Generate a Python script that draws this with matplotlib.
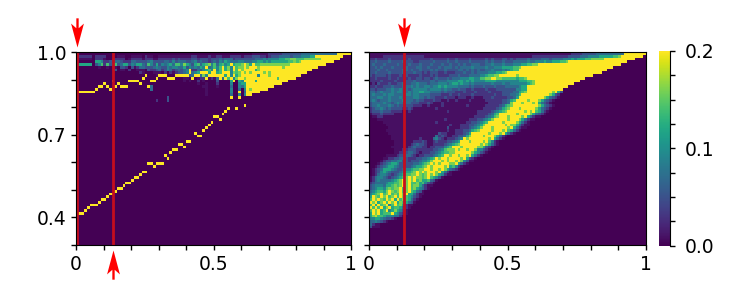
import matplotlib
matplotlib.use('Agg')
import matplotlib.pyplot as plt
import numpy as np
from matplotlib.path import Path

# one character per cell, an index into level_values, top row first, spaces every 10 cells
level_values = [0, .008, .03, .05, .07, .09, .12, .14, .16, .18, .2]

left_rows = [
    "0000000000 0000000000 0000000000 0000000000 0000000000 0000000000 0000111111 2222233333 3344444444 44444aaaaa",
    "0222220222 2000011100 1111021100 1111111111 1122111121 1221112222 1222333221 2333444434 4455566aaa aaaaaaa",
    "0111110222 1001222201 2222122211 2222232322 2233233323 3343444233 3333344454 5555667788 777888888a aaaaaa",
    "0000000665 2233443222 4433334533 3344353444 3345343323 4354654445 5444556656 5666666778 78aaaaaaaa aaaa",
    "6666660357 2735734663 5466437536 3545647758 6536746785 746756a677 8a86a77888 88888888aa aaaaaaaaaa a",
    "0000000010 0101103320 3124433345 4335455446 3545465a45 757a685a78 8a8aaa8aaa aaaaa8aaaa aaaaaaaa",
    "0000000000 0000301102 0011103223 4235423434 5a22435675 a57a685a7a 8aaaa68aaa aaaaaaaaaa aaaaaa",
    "0000000000 0000000000 0002100011 1020212334 5a45657a6a a67a785878 a8a8aaaa8a 8aaaaaaaaa aaaa",
    "0000000000 0000000000 0000000001 0000002122 0343a48545 6a7a6a5a68 aaaaaa5aaa 8aaaaaaaaa aa",
    "0000000000 0000000000 0000000000 0000000001 1010122012 14a4a7a58a a8aaaaaaaa aaa7aaaaaa",
    "0000000000 0000000000 0000000000 0000000001 0100201000 0300006a06 5aaaa6aaaa aaaaaaa",
    "0000000000 0000000000 0000000000 0000000000 0000100100 0200005005 66aaaaaaaa aaaaa",
    "0000000000 0000000000 0000000400 0000000000 0000001100 0100004005 46aaaaaaaa aa",
    "0000000000 0000000000 0000000400 0000000000 0000000100 0000005004 05a8aaaaaa",
    "0000000000 0000000000 0000000000 0000000000 0000000100 000000500a 04aaaaa",
    "0000000000 0000000000 0000000000 0000000000 0000000100 0000004005 05aa",
    "0000000000 0000000000 0000000000 0003000000 0000000000 000000a00a",
    "0000000000 0000000000 0000000002 0003",
]

right_rows = [
    "1111111111 1111111111 1111111111 1111111111 1111111111 1111111111 1111111111 1112222333 3344444444 44aaaaaaaa",
    "1111122222 2222222222 1111111111 1111111111 1111111111 1111111112 2222222222 2233334445 5556666677 8aaaaaaaa",
    "2232222322 2222322222 2232222232 2322223222 2232322233 2323333433 3344434444 5556566677 88888aaaaa aaaaaa",
    "3343333433 3343332233 3334333343 3433334333 3343433343 3344444544 5556556667 78aaaaaaaa aaaaaaaaaa aaa",
    "3433343333 4333433343 3343334334 3343433444 3344544454 4455566778 8aaaaaaaaa aaaaaaaaaa aaaaaaaaaa a",
    "3343433343 3334333443 3433343444 3434444544 4454455566 66778aaaaa aaaaaaaaaa aaaaaaaaaa aaaaaaaa",
    "3334334333 3344343343 3343433433 3344343434 3344544454 5677aaaaaa aaaaaaaaaa aaaaaaaaaa aaaaaa",
    "3343333433 3343334332 3233322322 2333433434 4445556678 aaaaaaaaaa aaaaaaaaaa aaaaaaaaaa aaaa",
    "3233332322 2323222232 2232322223 3343334444 5567788aaa aaa8aaaaaa aaaaaaaaaa aaaaaaaaaa a",
    "2232222322 3222322332 3323433343 4445556655 7788aa8877 7776778aaa aaaaaaaaaa aaaaaaaa",
    "2222322223 2223334333 3344344455 5566565655 5566665555 5555666778 aaaaaaaaaa aaaaaa",
    "1213222322 3343344544 4344455545 6656554544 4444544454 4555555678 aaaaaaaaaa aaaa",
    "2232233343 3344454544 5545565655 5544443433 3433343334 4444566aaa aaaaaaaaaa aa",
    "3323334454 4544345555 5455554544 3343322322 2232223333 3335566aaa aaaaaaaaaa",
    "4434544454 5544545566 5544443433 3222322232 2223222233 3344678aaa aaaaaa8a63",
    "4544454554 4445545544 4433332223 2232222322 2222232233 34457aaaaa aaaaa8632",
    "4445544544 4544445544 3433222322 2122211211 1222322222 3346aaaaaa aaa864321",
    "4543444544 4454443433 2223221121 1211112111 1122222233 467aaaa8aa a864321",
    "3444454434 5444433322 2321112111 1111111111 1112222233 48aaa8aaa8 a64321",
    "3445444543 4333332221 1211112111 1111121111 1122222346 78aaaaaaaa a864321",
    "2344543433 3322321111 1111211111 1111111111 1222223467 8aaa8aaaaa 864321",
    "2333433322 2211211111 1111111121 1111111112 2222345678 aaaaaa8a8a 76421",
    "1222322221 1111111111 1111111111 1111111112 2223467aaa aaa8aaaa86 4321",
    "0112211111 1111111111 1111111111 1111111122 2234578aaa 8aaaa8a642 11",
    "0001111111 1111111111 1111111211 1111112223 34568aaaaa 8aaa864211",
    "0000011111 1111111111 1111211111 1111122334 567aaaaa8a aaa86421",
    "0000001111 1111111111 1111111112 1112223345 68aaaaaaa8 a8864211",
    "0000000111 1111111111 1111111131 1112223456 8aaa8aaaaa 8a64211",
    "0000001111 1111111111 1111111121 1222334678 aaaa8aaa8a 76421",
    "0000000111 1111111111 1111132211 1222346aaa aaa8aaa8a6 421",
    "0000000011 1111111111 1111423211 2233468aaa a8aaa86421",
    "0000000011 1111111121 1114532122 2345a8aaaa aaa8a6421",
    "0000000001 1111112223 2112322233 456aaa8aaa a8a7521",
    "0000000001 1111123433 2112222345 678aaaaaaa 8a86421",
    "0000000011 1111234332 2122333567 aaa8aaaaa8 86321",
    "0000000001 1122333222 2223345788 8a8aa8aa85 5321",
    "0000000001 1223443212 2233456778 8aaaaaa865 321",
    "0000001111 2334432122 3334567aa8 aa8aa8a642 1",
    "0000011223 3443222334 4567a8aa8a aaa8a6321",
    "0000123344 5533233345 568aaa8a8a a8a85311",
    "0001234566 5333334456 78a8a8aaa8 8a6421",
    "0012345665 4333345667 8a8aaaa8a6 7521",
    "0123466654 3345567788 aa8aa8a864 321",
    "0123565433 3456678a8a 8aaa8a6421",
    "0124554323 4567788a87 8a8a865211",
    "1245543234 5678a8a887 8a76531",
    "1245444456 78a8a8a786 67431",
    "2344445667 78a8a77867 5321",
    "3455546678 78a8a78864 211",
    "3456657878 8a78a78654 21",
    "4567768a87 8a78a76431",
    "5678a78a78 7a8a664211",
    "6a87a8a78a 7a8765321",
    "7a8a87a8a6 a7876421",
    "a8a68a7a8a 6876431",
    "7a6a78a57a 786211",
    "a7a7a68a67 76421",
    "7a8a67a568 6531",
    "6a8a6777a6 5321",
    "6897765554 421",
    "5566543321",
    "4454321",
    "4211",
    "3111",
]

# the two thin curves in the left panel, one y per column
upper_y = [.855, .855, .855, .855, .855, .855, .855, .865, .875, .875, .885, .875, .865, .895,
           .875, .885, .875, .875, .875, .895, .895, .895, .895, .885, .905, .915, .875, .895,
           .895, .905, .915, .915, .915, .905, .905, .905, .915, .915, .915, .915, .915, .935,
           .905, .915, .915, .925, .925, .905, .915, .915, .915, .915, .915, .915, .925, .925]
lower_y = [.415, .415, .415, .425, .435, .445, .445, .445, .455, .465, .465, .475, .485, .485,
           .495, .505, .505, .515, .525, .525, .535, .545, .545, .555, .565, .565, .595, .595,
           .585, .595, .595, .595, .625, .615, .635, .645, .645, .665, .665, .655, .675, .675,
           .695, .705, .695, .695, .715, .725, .735, .745, .765, .765, .755, .775, .785, .795,
           .795, .795, .795, .805, .805, .805]
lower_gaps = [42, 56, 57, 59, 60]  # columns with no dot on the lower curve

left_marks = [0.003, 0.134]
right_marks = [0.126]
x_minor = [0.1, 0.2, 0.3, 0.4, 0.6, 0.7, 0.8, 0.9]
y_minor = [0.3, 0.5, 0.6, 0.8, 0.9]

N_ROWS = 70
N_COLS = 100


def build_grid(rows):
    grid = np.zeros((N_ROWS, N_COLS))
    for r, row in enumerate(rows):
        cells = row.replace(' ', '')[:N_COLS]
        for c, ch in enumerate(cells):
            grid[r, c] = level_values[int(ch, 16)]
    return grid


left = build_grid(left_rows)
for c, y in enumerate(upper_y):
    left[int((1 - y) * 100), c] = 0.2
for c, y in enumerate(lower_y):
    if c not in lower_gaps:
        left[int((1 - y) * 100), c] = 0.2

# red arrow, tip at the origin
down_verts = [(0, 0), (.22, .82), (.04, .66), (.04, 1), (-.04, 1), (-.04, .66), (-.22, .82), (0, 0)]
up_verts = [(x, -y) for x, y in down_verts]
codes = [Path.MOVETO] + [Path.LINETO] * 6 + [Path.CLOSEPOLY]
arrow_down = Path(down_verts, codes)
arrow_up = Path(up_verts, codes)

fig = plt.figure(figsize=(7.47, 3.02), dpi=100)
ax1 = fig.add_axes([76 / 747, 57 / 302, 275 / 747, 193 / 302])
ax2 = fig.add_axes([369 / 747, 57 / 302, 277 / 747, 193 / 302])
cax = fig.add_axes([659 / 747, 56.5 / 302, 11 / 747, 194.5 / 302])

for ax, grid in ((ax1, left), (ax2, build_grid(right_rows))):
    im = ax.imshow(grid, cmap='viridis', vmin=0, vmax=0.2, aspect='auto',
                   extent=[0, 1, 0.3, 1], interpolation='nearest')
    ax.set_xticks([0, 0.5, 1])
    ax.set_xticklabels(['0', '0.5', '1'])
    ax.set_xticks(x_minor, minor=True)
    ax.set_yticks([0.4, 0.7, 1.0])
    ax.set_yticks(y_minor, minor=True)
    ax.tick_params(which='both', length=3.5, width=1, labelsize=13.5, pad=3.5)

ax1.set_yticklabels(['0.4', '0.7', '1.0'])
ax2.set_yticklabels([])

for x in left_marks:
    ax1.axvline(x, color='#c40d1e', lw=2)
for x in right_marks:
    ax2.axvline(x, color='#c40d1e', lw=2)

trans1 = ax1.get_xaxis_transform()
trans2 = ax2.get_xaxis_transform()
ax1.plot(left_marks[0], 1.026, marker=arrow_down, ms=42, color='red', mew=0, transform=trans1, clip_on=False)
ax1.plot(left_marks[1], -0.026, marker=arrow_up, ms=42, color='red', mew=0, transform=trans1, clip_on=False)
ax2.plot(right_marks[0], 1.026, marker=arrow_down, ms=42, color='red', mew=0, transform=trans2, clip_on=False)

cb = fig.colorbar(im, cax=cax)
cb.set_ticks([0.0, 0.1, 0.2])
cb.set_ticklabels(['0.0', '0.1', '0.2'])
cb.set_ticks([0.025, 0.05, 0.075, 0.125, 0.15, 0.175], minor=True)
cb.outline.set_visible(False)
cax.spines['right'].set_visible(True)
cax.tick_params(which='both', length=3.5, width=1, labelsize=13.5, pad=7)

plt.savefig('out.png', dpi=100)
